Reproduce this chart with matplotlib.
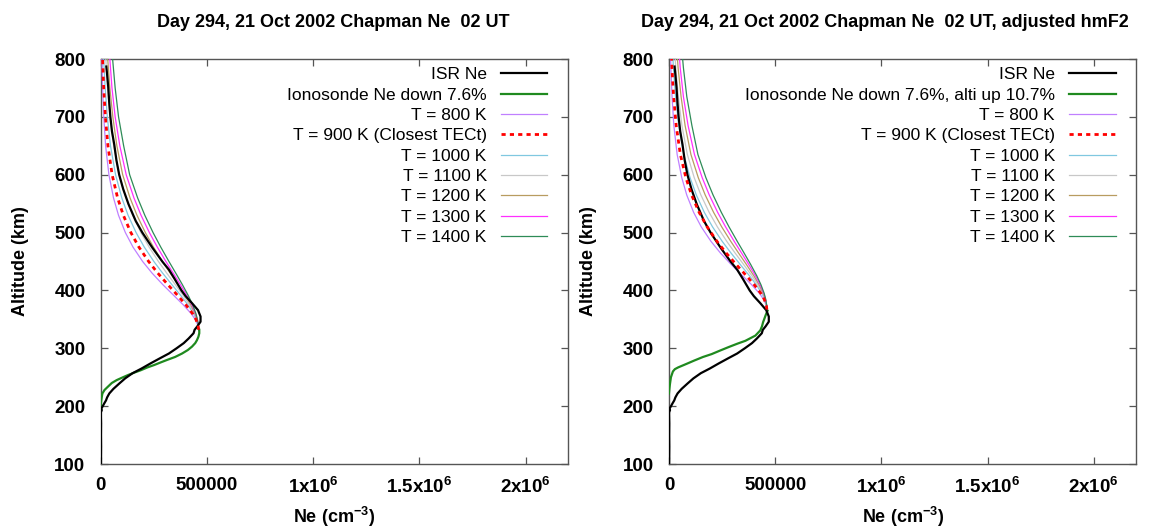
import matplotlib
matplotlib.use("Agg")
import matplotlib.pyplot as plt
from matplotlib.ticker import FixedLocator, FixedFormatter

plt.rcParams['font.family'] = ['Liberation Sans', 'DejaVu Sans']
plt.rcParams['mathtext.fontset'] = 'custom'
plt.rcParams['mathtext.rm'] = 'Liberation Sans:bold'
plt.rcParams['mathtext.bf'] = 'Liberation Sans:bold'
plt.rcParams['mathtext.default'] = 'bf'

# ---------------- data ----------------
titles = ["Day 294, 21 Oct 2002 Chapman Ne  02 UT",
          "Day 294, 21 Oct 2002 Chapman Ne  02 UT, adjusted hmF2"]
iono_labels = ["Ionosonde Ne down 7.6%", "Ionosonde Ne down 7.6%, alti up 10.7%"]
temps = [800, 900, 1000, 1100, 1200, 1300, 1400]

isr_alt = [787, 770, 750, 725, 700, 675, 652, 625, 600, 575, 549, 520, 500, 474, 450,
           436, 420, 400, 390, 378, 366, 355, 346, 338, 332, 326, 317, 309, 300, 291,
           283, 274, 265, 257, 248, 239, 230, 222, 215, 210, 205, 202, 199, 196, 193,
           190, 187, 170, 150, 130, 110, 100]
isr_ne = [26500, 31000, 35800, 40000, 45500, 53000, 63900, 74000, 87000, 106000, 131000,
          165000, 196000, 243000, 290000, 321000, 348000, 380000, 400000, 430000, 458000,
          470000, 470000, 455000, 442000, 437000, 414000, 391000, 357000, 321000, 280000,
          235000, 192000, 150000, 115000, 87000, 60000, 40500, 30000, 25000, 17000, 12500,
          8000, 3000, 5000, 1000, 500, 1500, 1000, 1500, 1000, 500]

iono_alt_left = [199, 205, 210, 216, 222, 228, 233, 240, 245, 250, 254, 258, 262, 267,
                 271, 276, 280, 285, 291, 297, 303, 309, 314, 320, 326, 332]
iono_ne_left = [0, 1000, 2500, 5000, 8000, 18000, 32000, 52000, 75000, 105000, 130000,
                158000, 188000, 220000, 251000, 285000, 313000, 350000, 383000, 410000,
                430000, 445000, 453000, 460000, 464000, 464000]

iono_alt_right = [222, 230, 238, 250, 260, 264, 267, 273, 279, 285, 290, 296, 302, 308,
                  313, 322, 331, 338, 345, 351, 357, 365]
iono_ne_right = [0, 2000, 4600, 9300, 18600, 27900, 43300, 82000, 120000, 160000, 201000,
                 240000, 280000, 322000, 360000, 407000, 430000, 438000, 443000, 449000,
                 455000, 464000]

chap_alt_left = [332, 340, 350, 360, 375, 390, 410, 430, 450, 475, 500, 530, 560, 600,
                 650, 700, 750, 800]
chap_alt_right = [367, 375, 385, 395, 410, 425, 445, 465, 485, 510, 535, 565, 595, 635,
                  685, 735, 785, 835]
ne_800 = [461000, 457600, 445100, 425800, 388900, 347600, 292500, 241700, 197500, 151900,
          116100, 83700, 60200, 38600, 23000, 14500, 9000, 5500]
ne_900 = [461000, 458300, 448200, 432400, 401300, 365600, 316100, 268600, 225700, 179700,
          142000, 106500, 79500, 53700, 34000, 22000, 14000, 9000]
ne_1000 = [461000, 458800, 450500, 437300, 410900, 379700, 335300, 291400, 250400, 205000,
           166500, 128800, 99300, 69900, 46000, 31000, 21000, 14000]
ne_1100 = [461000, 459200, 452200, 441000, 418400, 391100, 351200, 310700, 271900, 227800,
           189200, 150300, 118900, 86600, 61000, 44000, 32000, 24000]
ne_1200 = [461000, 459500, 453500, 443900, 424300, 400200, 364400, 327100, 290700, 248200,
           210100, 170700, 138000, 103400, 76000, 57000, 43000, 33000]
ne_1300 = [461000, 459700, 454600, 446300, 429100, 407700, 375400, 341200, 307000, 266400,
           229200, 189800, 156400, 120000, 90000, 68000, 53000, 43000]
ne_1400 = [461000, 459800, 455400, 448200, 433000, 413900, 384600, 353200, 321300, 282600,
           246500, 207600, 173800, 136300, 108000, 84000, 68000, 56000]
chap_ne = [ne_800, ne_900, ne_1000, ne_1100, ne_1200, ne_1300, ne_1400]

x_ticks = [0, 500000, 1000000, 1500000, 2000000]
x_ticklabels = ["0", "500000", r"1x10$^{6}$", r"1.5x10$^{6}$", r"2x10$^{6}$"]
y_ticks = [100, 200, 300, 400, 500, 600, 700, 800]

# ---------------- styles ----------------
chap_colors = ['#c080ff', '#ff0000', '#80c8e0', '#c8c8c8', '#b89c60', '#ff30ff', '#2e8b57']
frame_col = '#555555'

fig = plt.figure(figsize=(11.51, 5.27), dpi=100)
axes = [fig.add_axes([0.0875, 0.1195, 0.406, 0.7685]),
        fig.add_axes([0.5812, 0.1195, 0.406, 0.7685])]

panels = [(iono_alt_left, iono_ne_left, chap_alt_left),
          (iono_alt_right, iono_ne_right, chap_alt_right)]
title_x = [0.497, 0.463]

for k, ax in enumerate(axes):
    ia, ine, calt = panels[k]
    ax.plot(isr_ne, isr_alt, color='black', lw=1.6, label='ISR Ne', zorder=5)
    ax.plot(ine, ia, color='#1f8a1f', lw=1.6, label=iono_labels[k], zorder=4)
    for T, ne, col in zip(temps, chap_ne, chap_colors):
        if T == 900:
            ax.plot(ne, calt, color=col, lw=2.0, dashes=(1.5, 1.5),
                    label='T = 900 K (Closest TECt)', zorder=6)
        else:
            ax.plot(ne, calt, color=col, lw=0.9, label=f'T = {T} K', zorder=3)

    ax.set_xlim(0, 2200000)
    ax.set_ylim(100, 800)
    ax.xaxis.set_major_locator(FixedLocator(x_ticks))
    ax.xaxis.set_major_formatter(FixedFormatter(x_ticklabels))
    ax.yaxis.set_major_locator(FixedLocator(y_ticks))
    ax.tick_params(direction='in', top=True, right=True, length=5, width=0.9,
                   color=frame_col, labelsize=13.5)
    ax.tick_params(axis='y', pad=11)
    ax.tick_params(axis='x', pad=9)
    for lab in ax.get_xticklabels() + ax.get_yticklabels():
        lab.set_fontweight('bold')
    for sp in ax.spines.values():
        sp.set_color(frame_col)
        sp.set_linewidth(1.0)
    ax.set_xlabel(r'Ne (cm$^{-3}$)', fontsize=13, fontweight='bold', labelpad=6)
    ax.set_ylabel('Altitude (km)', fontsize=13, fontweight='bold', labelpad=18)
    ax.set_title(titles[k], fontsize=13, fontweight='bold', pad=23, x=title_x[k])

    leg = ax.legend(loc='upper right', bbox_to_anchor=(0.956, 0.98), frameon=False,
                    markerfirst=False, fontsize=12.5, handlelength=2.7, handletextpad=0.8,
                    labelspacing=0.30, borderpad=0, borderaxespad=0)
    for t in leg.get_texts():
        t.set_ha('right')

fig.savefig('out.png', dpi=100)
